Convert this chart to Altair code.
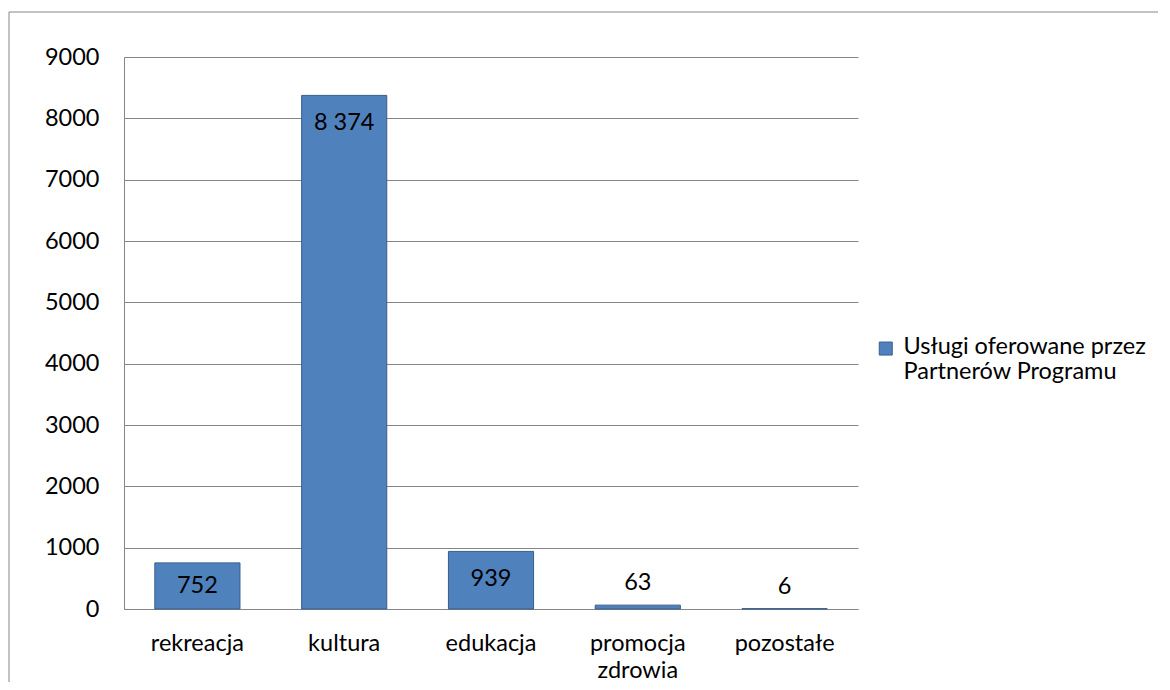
import altair as alt
import pandas as pd

categories = ["rekreacja", "kultura", "edukacja", "promocja zdrowia", "pozostałe"]
values = [752, 8374, 939, 63, 6]
series_name = "Usługi oferowane przez Partnerów Programu"
y_ticks = [0, 1000, 2000, 3000, 4000, 5000, 6000, 7000, 8000, 9000]

df = pd.DataFrame({"kategoria": categories, "wartosc": values, "seria": [series_name] * len(categories)})

FONT = "Lato"
FS = 23.5
GREY = "#868686"
FILL = "#4F81BD"
EDGE = "#385D8A"

x_enc = alt.X(
    "kategoria:N",
    sort=categories,
    scale=alt.Scale(paddingInner=0.42, paddingOuter=0.21),
    axis=alt.Axis(
        title=None, labelAngle=0, ticks=False, domainColor=GREY, grid=False,
        labelExpr="length(datum.label) > 12 ? split(datum.label, ' ') : datum.label",
        labelLineHeight=27, labelPadding=22, labelBaseline="top",
    ),
)
y_enc = alt.Y(
    "wartosc:Q",
    scale=alt.Scale(domain=[0, 9000], nice=False),
    axis=alt.Axis(values=y_ticks, title=None, ticks=False, domainColor=GREY,
                  gridColor=GREY, gridOpacity=1, labelPadding=25, format="d"),
)

base = alt.Chart(df)

border = alt.Chart(pd.DataFrame({"a": [0]})).mark_rect(
    fillOpacity=0, stroke=GREY, strokeWidth=1
).encode(x=alt.value(-115), x2=alt.value(1100), y=alt.value(-45), y2=alt.value(700))

bars = base.mark_bar(stroke=EDGE, strokeWidth=1).encode(
    x=x_enc,
    y=y_enc,
    color=alt.Color(
        "seria:N",
        scale=alt.Scale(range=[FILL]),
        legend=alt.Legend(
            title=None, orient="none", legendX=750, legendY=285, padding=0,
            symbolType="M-1,-1.8H1V0.2H-1Z", symbolSize=169,
            symbolStrokeColor=EDGE, symbolStrokeWidth=1,
            labelExpr="split(replace(datum.label, 'przez ', 'przez|'), '|')",
            labelFont=FONT, labelFontSize=FS, labelLimit=400, labelOffset=6,
            labelBaseline="alphabetic", labelColor="black",
        ),
    ),
)

labels = base.transform_calculate(
    ly="datum.wartosc > 500 ? max(datum.wartosc - 456, datum.wartosc / 2) : datum.wartosc + 360",
    txt="replace(format(datum.wartosc, ','), ',', ' ')",
).mark_text(font=FONT, fontSize=FS, color="black", baseline="middle").encode(
    x=alt.X("kategoria:N", sort=categories),
    y=alt.Y("ly:Q"),
    text="txt:N",
)

chart = alt.layer(border, bars, labels).properties(
    width=734, height=552,
    padding={"left": 116, "top": 49, "right": 300, "bottom": 73},
    autosize=alt.AutoSizeParams(type="none"),
).configure_view(stroke=None).configure_axis(
    labelFont=FONT, labelFontSize=FS, labelColor="black"
)

chart.save("out.html", embed_options={"renderer": "svg", "actions": False})
